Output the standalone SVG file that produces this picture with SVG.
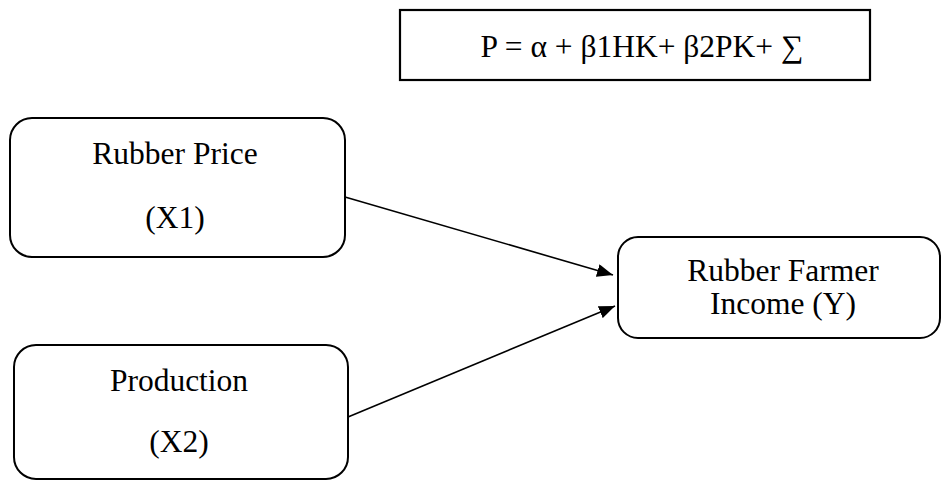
<svg xmlns="http://www.w3.org/2000/svg" width="942" height="481" viewBox="0 0 942 481">
<style>
.box{fill:#fff;stroke:#000;stroke-width:2}
.t{font-family:"Liberation Serif","Times New Roman",serif;font-size:31.5px;fill:#000;text-anchor:middle}
.c{stroke:#000;stroke-width:1.6;fill:none}
</style>
<defs>
<marker id="ah" markerUnits="userSpaceOnUse" markerWidth="17" markerHeight="13" refX="16" refY="6.5" orient="auto">
<path d="M0,0 L16,6.5 L0,13 z" fill="#000"/>
</marker>
</defs>
<rect width="942" height="481" fill="#fff"/>
<g id="formula">
<rect class="box" x="400" y="10" width="470" height="70" style="stroke-width:2.2"/>
<text class="t" x="642" y="57">P = α + β1HK+ β2PK+ ∑</text>
</g>
<g id="price">
<rect class="box" x="10" y="118" width="335" height="139" rx="22" ry="22"/>
<text class="t" x="175" y="164">Rubber Price</text>
<text class="t" x="175" y="228">(X1)</text>
</g>
<g id="production">
<rect class="box" x="14" y="345" width="334" height="134" rx="22" ry="22"/>
<text class="t" x="179" y="391">Production</text>
<text class="t" x="179" y="452">(X2)</text>
</g>
<g id="income">
<rect class="box" x="618" y="237" width="322" height="101" rx="20" ry="20"/>
<text class="t" x="783" y="281">Rubber Farmer</text>
<text class="t" x="783" y="314">Income (Y)</text>
</g>
<g id="connectors">
<line class="c" x1="345" y1="197" x2="613" y2="275" marker-end="url(#ah)"/>
<line class="c" x1="348" y1="417" x2="615" y2="306" marker-end="url(#ah)"/>
</g>
</svg>
